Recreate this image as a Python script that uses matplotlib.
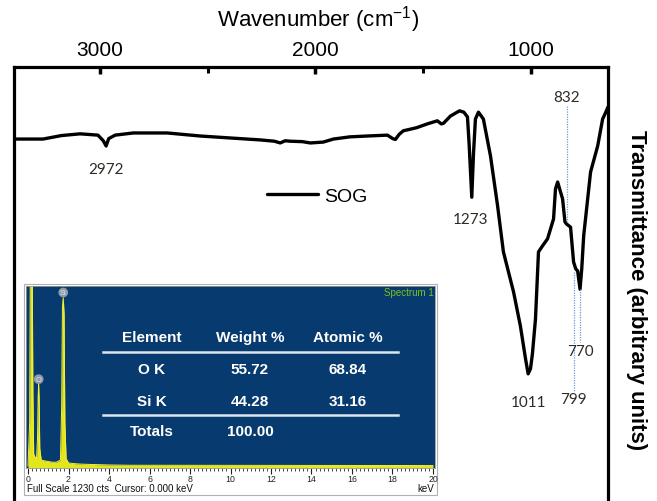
import matplotlib
matplotlib.use('Agg')
import matplotlib.pyplot as plt
from matplotlib.patches import Rectangle
from matplotlib.lines import Line2D
from matplotlib.ticker import MultipleLocator

plt.rcParams['font.family'] = ['Liberation Sans', 'DejaVu Sans']

# ---------------- data ----------------
wavenumber = [3400, 3265, 3180, 3093, 3010, 2985, 2972, 2960, 2930, 2846,
              2688, 2535, 2381, 2256, 2190, 2163, 2140, 2116, 2060, 2023,
              1963, 1916, 1840, 1758, 1665, 1640, 1628, 1610, 1591, 1530,
              1479, 1433, 1415, 1405, 1372, 1330, 1310, 1293, 1285, 1273,
              1265, 1256, 1242, 1219, 1186, 1153, 1126, 1079, 1047, 1023,
              1011, 1000, 991, 977, 963, 944, 921, 907, 893, 884,
              874, 851, 840, 832, 814, 800, 790, 781, 770, 762,
              753, 721, 688, 665, 651, 640]
transmittance = [83.4, 83.4, 84.2, 84.6, 84.3, 83.0, 81.8, 83.5, 84.3, 84.8,
                 84.8, 84.1, 83.6, 83.2, 82.9, 82.5, 83.0, 82.9, 82.8, 82.5,
                 82.7, 83.4, 83.9, 84.1, 84.3, 83.5, 83.3, 84.5, 85.3, 86.0,
                 86.9, 87.6, 86.9, 87.0, 88.7, 89.9, 89.6, 88.5, 82.0, 70.0,
                 80.0, 88.0, 89.6, 88.0, 79.5, 68.0, 57.4, 48.2, 40.3, 32.7,
                 29.3, 30.5, 34.0, 41.9, 57.4, 58.8, 60.4, 62.7, 65.0, 71.9,
                 73.5, 69.6, 64.3, 63.8, 63.1, 55.1, 53.5, 53.0, 48.8, 53.5,
                 61.1, 75.8, 81.8, 88.0, 89.5, 90.8]
series_name = 'SOG'
peak_labels = [2972, 1273, 1011, 832, 799, 770]
x_major = [3000, 2000, 1000]
x_minor = [2500, 1500]

eds_energy = [0.0, 0.08, 0.12, 0.16, 0.2, 0.24, 0.28, 0.35, 0.42, 0.47,
              0.5, 0.525, 0.55, 0.58, 0.65, 0.8, 1.0, 1.2, 1.4, 1.6,
              1.66, 1.70, 1.74, 1.78, 1.82, 1.88, 2.0, 2.3, 2.6, 3.0,
              3.5, 4.0, 5.0, 20.0]
eds_counts = [0, 300, 1600, 1600, 1600, 500, 80, 60, 50, 200,
              480, 565, 450, 120, 40, 35, 30, 25, 25, 40,
              400, 1100, 1165, 1050, 300, 50, 20, 15, 12, 10,
              8, 6, 4, 2]
eds_ticks = list(range(0, 21, 2))
eds_peaks = [('O', 0.525, 565), ('Si', 1.74, 1165)]
table_header = ['Element', 'Weight %', 'Atomic %']
elements = ['O K', 'Si K']
weight_pct = ['55.72', '44.28']
atomic_pct = ['68.84', '31.16']
total_label = 'Totals'
total_weight = '100.00'

# ---------------- layout helpers ----------------
W, H = 657, 502
fig = plt.figure(figsize=(6.57, 5.02), dpi=100)


def fx(px):
    return px / W


def fy(py):
    return 1 - py / H


# ---------------- main FTIR axes ----------------
ax = fig.add_axes([fx(14), 0, fx(608) - fx(14), fy(68)])
ax.plot(wavenumber, transmittance, color='black', lw=2.4, label=series_name,
        solid_joinstyle='round', solid_capstyle='round')
ax.set_xlim(3400, 640)
ax.set_ylim(0, 100)
ax.spines['bottom'].set_visible(False)
for s in ['left', 'top', 'right']:
    ax.spines[s].set_linewidth(2.3)
ax.xaxis.tick_top()
ax.set_xticks(x_major)
ax.set_xticks(x_minor, minor=True)
ax.set_xticklabels([str(v) for v in x_major])
ax.tick_params(axis='x', which='major', direction='in', length=5, width=2.5,
               labelsize=15, pad=6, top=True, bottom=False)
ax.tick_params(axis='x', which='minor', direction='in', length=4, width=2.2,
               top=True, bottom=False)
ax.set_yticks([])

leg = ax.legend(loc='center left',
                bbox_to_anchor=((267 - 14) / 594, (502 - 197) / 434),
                frameon=False, fontsize=14, handlelength=2.6,
                handletextpad=0.35, borderpad=0, borderaxespad=0)

# peak annotations
label_place = {2972: (0, 76.5), 1273: (7, 65.0), 1011: (0, 22.8),
               832: (0, 93.1), 799: (0, 23.5), 770: (0, 34.6)}
guide_span = {832: (91.0, 64.3), 799: (52.8, 25.1), 770: (48.8, 36.6)}
for p in peak_labels:
    dx, yy = label_place[p]
    ax.text(p + dx, yy, str(p), ha='center', va='center', fontsize=11,
            color='#2e2a26', family=['Lato', 'DejaVu Sans'])
    if p in guide_span:
        y0, y1 = guide_span[p]
        ax.plot([p, p], [y0, y1], ls=(0, (1, 1)), color='#6b9bd9', lw=0.9)

# white panel behind inset
ax.add_patch(Rectangle((fx(24), fy(496)), fx(437) - fx(24), fy(285) - fy(496),
                       transform=fig.transFigure, fc='white', ec='#b0b0b0',
                       lw=0.8, clip_on=False, zorder=5))

# axis titles
fig.text(fx(318), fy(20), 'Wavenumber (cm$^{\\mathregular{-1}}$)',
         ha='center', va='center', fontsize=16)
fig.text(fx(637), fy(290), 'Transmittance (arbitrary units)', rotation=270,
         ha='center', va='center', fontsize=16, fontweight='bold')

# ---------------- EDS inset ----------------
iax = fig.add_axes([fx(26), fy(469), fx(435) - fx(26), fy(287) - fy(469)])
iax.set_facecolor('#073a6e')
iax.fill_between(eds_energy, eds_counts, -15, color='#e3e61c', lw=0)
iax.plot(eds_energy, eds_counts, color='#f2f23a', lw=0.7)
iax.set_xlim(-0.1, 20.1)
iax.set_ylim(-15, 1245)
iax.set_yticks([])
iax.set_xticks(eds_ticks)
iax.xaxis.set_minor_locator(MultipleLocator(0.2))
iax.tick_params(axis='x', which='major', direction='out', length=4, width=0.8,
                labelsize=6.3, pad=0.3, colors='#222222')
iax.tick_params(axis='x', which='minor', direction='out', length=1.8,
                width=0.5)
for s in iax.spines.values():
    s.set_color('#9a9a9a')
    s.set_linewidth(0.6)
for name, e, c in eds_peaks:
    iax.text(e, c + 35, name, ha='center', va='center', fontsize=5.5,
             color='#e8e8e8',
             bbox=dict(boxstyle='circle,pad=0.18', fc='#8d98a8', ec='none'))

fig.text(fx(434), fy(293), 'Spectrum 1', ha='right', va='center',
         fontsize=7, color='#7cc21e')
fig.text(fx(27), fy(489), 'Full Scale 1230 cts  Cursor: 0.000 keV',
         ha='left', va='center', fontsize=7, color='#111111')
fig.text(fx(434), fy(489), 'keV', ha='right', va='center', fontsize=7,
         color='#111111')

# table
col_x = [152, 250, 348]
row_y = [338, 370, 402, 432]
rows = [table_header,
        [elements[0], weight_pct[0], atomic_pct[0]],
        [elements[1], weight_pct[1], atomic_pct[1]],
        [total_label, total_weight, '']]
for r, row in zip(row_y, rows):
    for cx, t in zip(col_x, row):
        fig.text(fx(cx), fy(r), t, ha='center', va='center', fontsize=11,
                 fontweight='bold', color='white')
for ly in [353, 416]:
    fig.add_artist(Line2D([fx(103), fx(398)], [fy(ly), fy(ly)],
                          color='#dde4ee', lw=1.8))

fig.savefig('out.png', dpi=100)
